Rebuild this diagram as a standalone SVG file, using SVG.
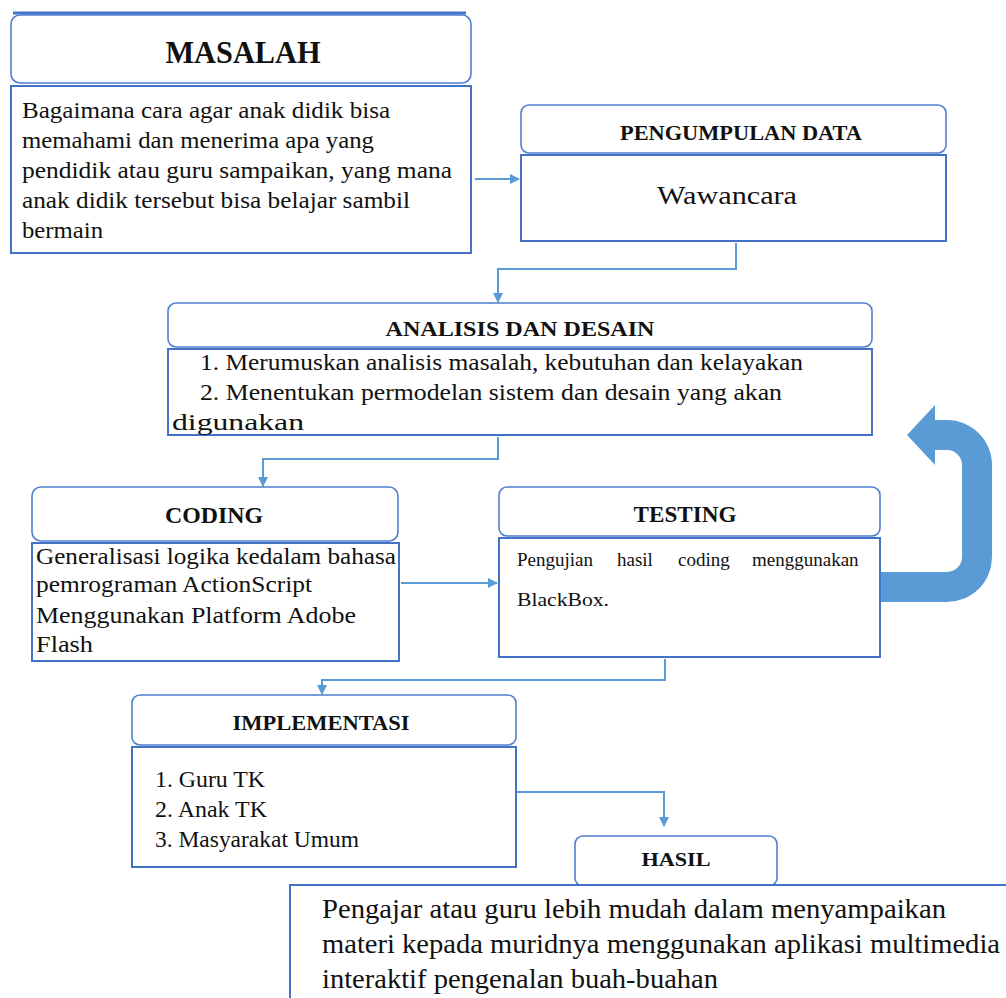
<svg xmlns="http://www.w3.org/2000/svg" width="1006" height="998" viewBox="0 0 1006 998">
<style>
.hdr{fill:#fff;stroke:#4f7fcf;stroke-width:1.6}
.body{fill:#fff;stroke:#4472c4;stroke-width:2}
.ht{font-family:"Liberation Serif",serif;font-weight:bold;fill:#111;text-anchor:middle}
.bt{font-family:"Liberation Serif",serif;fill:#111}
.con{fill:none;stroke:#5b9bd5;stroke-width:2}
</style>
<defs>
<marker id="ah" markerWidth="10" markerHeight="10" refX="9" refY="5" orient="auto" markerUnits="userSpaceOnUse">
<path d="M0,0 L10,5 L0,10 Z" fill="#5b9bd5"/>
</marker>
</defs>
<rect width="1006" height="998" fill="#fff"/>

<g id="masalah">
<rect class="hdr" x="11" y="15" width="460" height="68" rx="9"/>
<line x1="13" y1="13" x2="466" y2="13" stroke="#4472c4" stroke-width="3"/>
<text class="ht" x="243" y="63" font-size="31" textLength="155" lengthAdjust="spacingAndGlyphs">MASALAH</text>
<rect class="body" x="11" y="86" width="460" height="167" stroke-width="2.4"/>
<text class="bt" font-size="23" x="22" y="118" textLength="368" lengthAdjust="spacingAndGlyphs">Bagaimana cara agar anak didik bisa</text>
<text class="bt" font-size="23" x="22" y="148" textLength="352" lengthAdjust="spacingAndGlyphs">memahami dan menerima apa yang</text>
<text class="bt" font-size="23" x="22" y="178" textLength="430" lengthAdjust="spacingAndGlyphs">pendidik atau guru sampaikan, yang mana</text>
<text class="bt" font-size="23" x="22" y="208" textLength="388" lengthAdjust="spacingAndGlyphs">anak didik tersebut bisa belajar sambil</text>
<text class="bt" font-size="23" x="22" y="238" textLength="81" lengthAdjust="spacingAndGlyphs">bermain</text>
</g>

<g id="pengumpulan">
<rect class="hdr" x="521" y="105" width="425" height="48" rx="8"/>
<text class="ht" x="741" y="140" font-size="21" textLength="242" lengthAdjust="spacingAndGlyphs">PENGUMPULAN DATA</text>
<rect class="body" x="521" y="155" width="425" height="86"/>
<text class="bt" font-size="26" x="727" y="204" text-anchor="middle" textLength="140" lengthAdjust="spacingAndGlyphs">Wawancara</text>
</g>

<g id="analisis">
<rect class="hdr" x="168" y="303" width="704" height="44" rx="8"/>
<text class="ht" x="520" y="336" font-size="22" textLength="269" lengthAdjust="spacingAndGlyphs">ANALISIS DAN DESAIN</text>
<rect class="body" x="168" y="349" width="704" height="86"/>
<text class="bt" font-size="23" x="200" y="370" textLength="603" lengthAdjust="spacingAndGlyphs">1. Merumuskan analisis masalah, kebutuhan dan kelayakan</text>
<text class="bt" font-size="23" x="200" y="400" textLength="582" lengthAdjust="spacingAndGlyphs">2. Menentukan permodelan sistem dan desain yang akan</text>
<text class="bt" font-size="23" x="172" y="430" textLength="132" lengthAdjust="spacingAndGlyphs">digunakan</text>
</g>

<g id="coding">
<rect class="hdr" x="32" y="487" width="366" height="54" rx="9"/>
<text class="ht" x="214" y="523" font-size="23" textLength="98" lengthAdjust="spacingAndGlyphs">CODING</text>
<rect class="body" x="32" y="543" width="367" height="118"/>
<text class="bt" font-size="23" x="36" y="564" textLength="360" lengthAdjust="spacingAndGlyphs">Generalisasi logika kedalam bahasa</text>
<text class="bt" font-size="23" x="36" y="592" textLength="276" lengthAdjust="spacingAndGlyphs">pemrograman ActionScript</text>
<text class="bt" font-size="23" x="36" y="623" textLength="320" lengthAdjust="spacingAndGlyphs">Menggunakan Platform Adobe</text>
<text class="bt" font-size="23" x="36" y="652" textLength="57" lengthAdjust="spacingAndGlyphs">Flash</text>
</g>

<g id="testing">
<rect class="hdr" x="499" y="487" width="381" height="49" rx="8"/>
<text class="ht" x="685" y="522" font-size="23" textLength="103" lengthAdjust="spacingAndGlyphs">TESTING</text>
<rect class="body" x="499" y="538" width="381" height="119"/>
<text class="bt" font-size="19" y="566"><tspan x="517">Pengujian</tspan><tspan x="617">hasil</tspan><tspan x="678">coding</tspan><tspan x="752">menggunakan</tspan></text>
<text class="bt" font-size="19" x="517" y="606" textLength="92" lengthAdjust="spacingAndGlyphs">BlackBox.</text>
</g>

<g id="implementasi">
<rect class="hdr" x="132" y="695" width="384" height="50" rx="8"/>
<text class="ht" x="321" y="730" font-size="22" textLength="177" lengthAdjust="spacingAndGlyphs">IMPLEMENTASI</text>
<rect class="body" x="132" y="747" width="384" height="120"/>
<text class="bt" font-size="23" x="155" y="787" textLength="110" lengthAdjust="spacingAndGlyphs">1. Guru TK</text>
<text class="bt" font-size="23" x="155" y="817" textLength="112" lengthAdjust="spacingAndGlyphs">2. Anak TK</text>
<text class="bt" font-size="23" x="155" y="847" textLength="204" lengthAdjust="spacingAndGlyphs">3. Masyarakat Umum</text>
</g>

<g id="hasil">
<rect class="hdr" x="575" y="836" width="202" height="50" rx="8"/>
<text class="ht" x="676" y="866" font-size="18" textLength="69" lengthAdjust="spacingAndGlyphs">HASIL</text>
<rect class="body" x="290" y="885" width="730" height="130"/>
<text class="bt" font-size="27" x="322" y="918" textLength="624" lengthAdjust="spacingAndGlyphs">Pengajar atau guru lebih mudah dalam menyampaikan</text>
<text class="bt" font-size="27" x="322" y="953" textLength="678" lengthAdjust="spacingAndGlyphs">materi kepada muridnya menggunakan aplikasi multimedia</text>
<text class="bt" font-size="27" x="322" y="988" textLength="396" lengthAdjust="spacingAndGlyphs">interaktif pengenalan buah-buahan</text>
</g>

<g id="connectors">
<path class="con" d="M475,179 L519,179" marker-end="url(#ah)"/>
<path class="con" d="M736,243 L736,269 L498,269 L498,302" marker-end="url(#ah)"/>
<path class="con" d="M498,437 L498,459 L263,459 L263,486" marker-end="url(#ah)"/>
<path class="con" d="M401,583 L497,583" marker-end="url(#ah)"/>
<path class="con" d="M665,659 L665,680 L322,680 L322,694" marker-end="url(#ah)"/>
<path class="con" d="M517,792 L664,792 L664,826" marker-end="url(#ah)"/>
<path d="M881,572 L947,572 A15,15 0 0 0 962,557 L962,465 A15,15 0 0 0 947,450 L935,450 L935,465 L907,435 L935,405 L935,420 L947,420 A45,45 0 0 1 992,465 L992,557 A45,45 0 0 1 947,602 L881,602 Z" fill="#5b9bd5"/>
</g>
</svg>
